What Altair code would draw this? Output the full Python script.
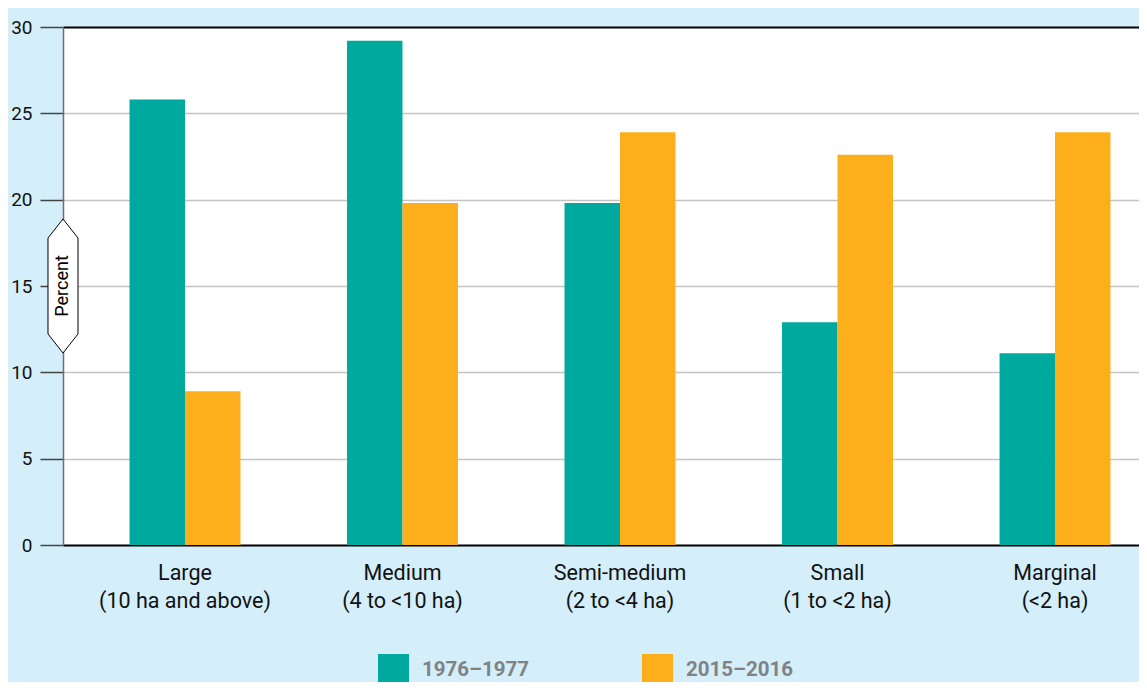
import altair as alt
import pandas as pd

categories = ["Large", "Medium", "Semi-medium", "Small", "Marginal"]
sublabels = ["(10 ha and above)", "(4 to <10 ha)", "(2 to <4 ha)", "(1 to <2 ha)", "(<2 ha)"]
series = ["1976–1977", "2015–2016"]
values_1976 = [25.8, 29.2, 19.8, 12.9, 11.1]
values_2015 = [8.9, 19.8, 23.9, 22.6, 23.9]
y_ticks = [0, 5, 10, 15, 20, 25, 30]
axis_title = "Percent"

FONT = "Roboto"
TEAL = "#00a99d"
ORANGE = "#fcaf1b"
BG = "#d4eefa"

rows = []
order = []
for c, s, a, b in zip(categories, sublabels, values_1976, values_2015):
    key = c + "|" + s
    order.append(key)
    rows.append({"cat": key, "series": series[0], "value": a})
    rows.append({"cat": key, "series": series[1], "value": b})
df = pd.DataFrame(rows)

bars = alt.Chart(df).mark_bar().encode(
    x=alt.X(
        "cat:N",
        sort=order,
        scale=alt.Scale(paddingInner=0.49, paddingOuter=0.2185, align=0.70),
        axis=alt.Axis(
            title=None, labelExpr="split(datum.label, '|')", labelAngle=0,
            ticks=False, domain=False, grid=False, labelFontSize=21.5,
            labelLineHeight=28, labelPadding=17, labelColor="#111111",
            labelFont=FONT, labelBaseline="top",
        ),
    ),
    xOffset=alt.XOffset("series:N", sort=series),
    y=alt.Y(
        "value:Q",
        scale=alt.Scale(domain=[0, 30], nice=False),
        axis=alt.Axis(
            values=y_ticks, title=None, tickSize=23, labelPadding=8,
            labelFontSize=19, labelFont=FONT, labelColor="#111111",
            tickColor="#444444", tickWidth=1.5,
            domainColor="#6d6e71", domainWidth=1.5,
            gridColor={"condition": {"test": "datum.value == 30 || datum.value == 0", "value": "#000000"}, "value": "#c4c4c4"},
            gridWidth={"condition": {"test": "datum.value == 30 || datum.value == 0", "value": 2}, "value": 1.5},
        ),
    ),
    color=alt.Color(
        "series:N",
        sort=series,
        scale=alt.Scale(domain=series, range=[TEAL, ORANGE]),
        legend=alt.Legend(
            title=None, orient="none", legendX=315, legendY=627,
            direction="horizontal", columns=2, symbolType="square",
            symbolSize=961, symbolStrokeWidth=0, symbolOpacity=1,
            labelFontSize=20.5, labelFontWeight="bold", labelColor="#808285",
            labelFont=FONT, labelOffset=13, columnPadding=112, padding=0,
            symbolOffset=0,
        ),
    ),
)

hex_path = "M0,-1 L0.224,-0.716 L0.224,0.716 L0,1 L-0.224,0.716 L-0.224,-0.716 Z"
tag_df = pd.DataFrame({"t": [axis_title]})
hexagon = alt.Chart(tag_df).mark_point(
    shape=hex_path, size=17956, filled=True, fill="white", stroke="black",
    strokeWidth=1, opacity=1,
).encode(x=alt.value(0), y=alt.datum(15))
tag_text = alt.Chart(tag_df).mark_text(
    angle=270, fontSize=18, font=FONT, color="black",
).encode(x=alt.value(0), y=alt.datum(15), text="t:N")

chart = alt.layer(bars, hexagon, tag_text).properties(
    width=1076, height=518,
    autosize=alt.AutoSizeParams(type="none"),
    padding={"left": 55, "top": 19, "right": 0, "bottom": 137},
).configure(background=BG).configure_view(fill="white", stroke=None)

chart.save("out.html", embed_options={"renderer": "svg", "actions": False})
